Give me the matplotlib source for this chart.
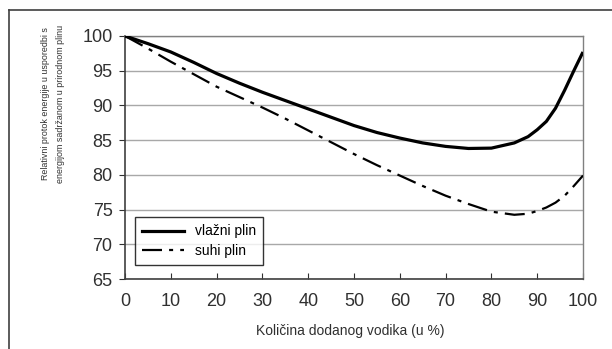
import matplotlib
matplotlib.use("Agg")
import matplotlib.pyplot as plt
from matplotlib.lines import Line2D

plt.rcParams["font.family"] = ["Liberation Sans", "DejaVu Sans"]

# udio vodika (%) i relativni protok energije (%)
x_vals = [0, 5, 10, 15, 20, 25, 30, 35, 40, 45, 50, 55, 60, 65, 70, 75, 80, 85, 88, 90, 92, 94, 96, 98, 100]
vlazni = [100, 98.9, 97.7, 96.2, 94.6, 93.2, 91.9, 90.7, 89.5, 88.3, 87.1, 86.1, 85.3, 84.6, 84.1, 83.8, 83.85, 84.6, 85.5, 86.5, 87.7, 89.6, 92.2, 95.0, 97.7]
suhi = [100, 98.2, 96.3, 94.5, 92.7, 91.2, 89.7, 88.1, 86.4, 84.7, 83.0, 81.4, 79.9, 78.4, 77.0, 75.8, 74.7, 74.25, 74.4, 74.8, 75.3, 76.0, 77.0, 78.4, 79.9]

fig = plt.figure(figsize=(6.12, 3.49), dpi=100)
W, H = 612, 349
ax = fig.add_axes([125 / W, 1 - 279 / H, 458 / W, 243 / H])

dash = (0, (9, 3.2, 1.8, 3.2))
ax.plot(x_vals, vlazni, color="black", lw=2.3, solid_capstyle="butt", zorder=3)
ax.plot(x_vals, suhi, color="black", lw=1.6, linestyle=dash, zorder=3)

ax.set_xlim(0, 100)
ax.set_ylim(65, 100)
ax.set_xticks(range(0, 101, 10))
ax.set_yticks(range(65, 101, 5))
ax.yaxis.grid(True, color="#a8a8a8", lw=1.0)
ax.set_axisbelow(True)

for side in ["top", "right"]:
    ax.spines[side].set_color("#808080")
    ax.spines[side].set_linewidth(1.0)
for side in ["left", "bottom"]:
    ax.spines[side].set_color("#404040")
    ax.spines[side].set_linewidth(1.2)

ax.tick_params(axis="x", direction="in", length=4, pad=10, labelsize=13, colors="#303030")
ax.tick_params(axis="y", direction="out", length=4, pad=5, labelsize=13, colors="#303030")

leg_handles = [
    Line2D([0], [0], color="black", lw=2.3, label="vlažni plin"),
    Line2D([0], [0], color="black", lw=1.6, linestyle=dash, label="suhi plin"),
]
leg = ax.legend(handles=leg_handles, loc="lower left", bbox_to_anchor=(0.022, 0.058),
                fontsize=10, frameon=True, fancybox=False, handlelength=3.0,
                handletextpad=0.8, borderaxespad=0, borderpad=0.5, labelspacing=0.4)
leg.get_frame().set_edgecolor("black")
leg.get_frame().set_linewidth(1.0)

fig.text(53 / W, 1 - 104 / H,
         "Relativni protok energije u usporedbi s\nenergijom sadržanom u prirodnom plinu",
         rotation=90, ha="center", va="center", fontsize=6.4, color="#303030", linespacing=1.8)
fig.text(350 / W, 1 - 331 / H, "Količina dodanog vodika (u %)",
         ha="center", va="center", fontsize=10, color="#303030")

# vanjski okvir (gornji i lijevi rub)
fig.add_artist(Line2D([9 / W, 9 / W], [0, 1 - 10 / H], color="#404040", lw=1.2, transform=fig.transFigure))
fig.add_artist(Line2D([9 / W, 1], [1 - 10 / H, 1 - 10 / H], color="#404040", lw=1.2, transform=fig.transFigure))

fig.savefig("out.png", dpi=100)
